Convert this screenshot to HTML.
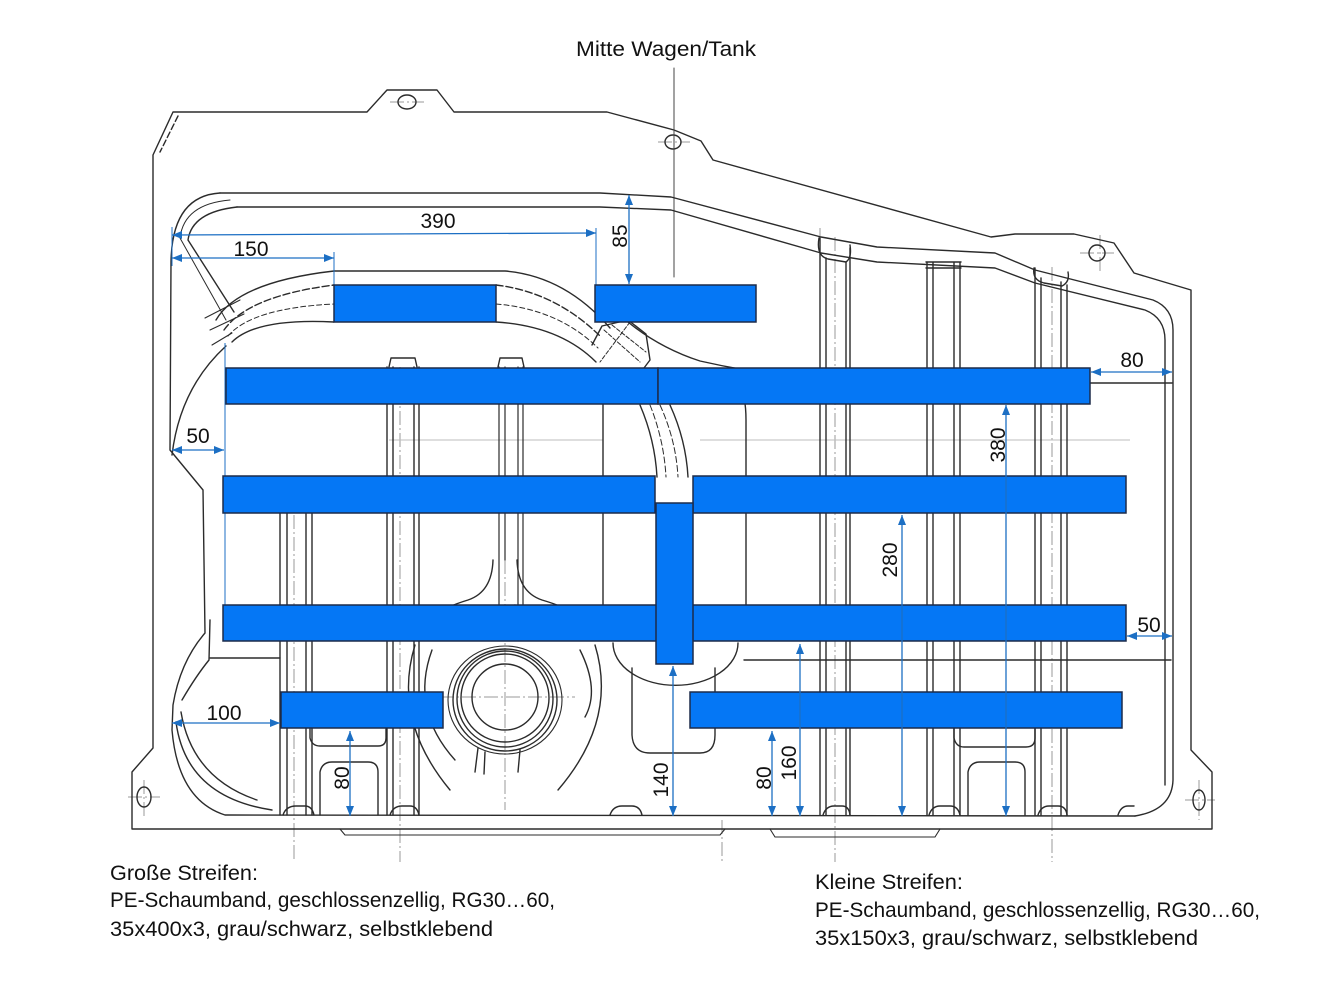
<!DOCTYPE html>
<html><head><meta charset="utf-8"><style>
html,body{margin:0;padding:0;background:#fff;}
svg{display:block;}
text{font-family:"Liberation Sans",sans-serif;fill:#111;}
</style></head><body>
<svg width="1344" height="1008" viewBox="0 0 1344 1008" xmlns="http://www.w3.org/2000/svg">
<defs>
<marker id="ah" viewBox="0 0 10 8" refX="10" refY="4" markerWidth="10" markerHeight="8" orient="auto-start-reverse" markerUnits="userSpaceOnUse"><path d="M0,0 L10,4 L0,8 Z" fill="#1c6fc4"/></marker>
</defs>
<rect width="1344" height="1008" fill="#fff"/>

<!-- light construction / center lines -->
<g fill="none" stroke="#9a9a9a" stroke-width="1" stroke-dasharray="14 3 2 3">
<line x1="294" y1="515" x2="294" y2="862"/>
<line x1="400" y1="367" x2="400" y2="862"/>
<line x1="505" y1="560" x2="505" y2="810"/>
<line x1="440" y1="697" x2="575" y2="697"/>
<line x1="722" y1="820" x2="722" y2="862"/>
<line x1="835" y1="237" x2="835" y2="862"/>
<line x1="1052" y1="267" x2="1052" y2="862"/>
<line x1="820" y1="228" x2="820" y2="262"/>
<line x1="1100" y1="235" x2="1100" y2="272"/>
<line x1="1199" y1="780" x2="1199" y2="820"/>
<line x1="144" y1="780" x2="144" y2="818"/>
<line x1="128" y1="797" x2="160" y2="797"/>
<line x1="1185" y1="800" x2="1215" y2="800"/>
<line x1="390" y1="102" x2="424" y2="102"/>
<line x1="658" y1="142" x2="690" y2="142"/>
<line x1="1080" y1="253" x2="1114" y2="253"/>
</g>
<g fill="none" stroke="#bdbdbd" stroke-width="1">
<line x1="389" y1="440" x2="603" y2="440"/>
<line x1="700" y1="440" x2="1130" y2="440"/>
</g>

<!-- main drawing -->
<g fill="none" stroke="#2b2b2b" stroke-width="1.4" stroke-linejoin="round" stroke-linecap="round">
<!-- outer contour -->
<path d="M173,112 L367,112 L387,90 L437,90 L454,112 L607,112 L674,130 L701,141 L713,160 L991,237 L1015,234 L1074,234 L1114,243 L1134,273 L1191,290 L1191,750 L1212,772 L1212,829 L132,829 L132,772 L153,748 L153,155 Z"/>
<path d="M178,116 L160,152" stroke-dasharray="6 3"/>
<path d="M340,829 L345,835 L720,835 L725,829 M770,829 L775,837 L935,837 L940,829" stroke-width="1.1"/>
<!-- holes -->
<ellipse cx="407" cy="102" rx="9" ry="7"/>
<ellipse cx="673" cy="142" rx="8" ry="7"/>
<ellipse cx="1097" cy="253" rx="8" ry="8"/>
<ellipse cx="144" cy="797" rx="7" ry="10"/>
<ellipse cx="1199" cy="800" rx="6" ry="10"/>
<!-- mitte line -->
<line x1="674" y1="68" x2="674" y2="277" stroke="#444" stroke-width="1"/>

<!-- inner flange line A -->
<path d="M220,193 L600,193 L671,197 L821,237 L877,247 L995,253 L1035,270 L1153,300 Q1173,308 1173,330 L1173,780 Q1172,810 1135,816"/>
<path d="M220,193 Q172,196 171,262 L170,450 L203,490 L205,633 Q180,662 173,705 L172,730 Q178,800 225,815 L1135,816"/>
<!-- inner flange line B -->
<path d="M237,207 L600,207 L671,210 L821,253 L877,262 L995,268 L1035,283 L1145,310 Q1165,318 1165,340 L1165,785"/>
<path d="M237,207 Q192,212 188,240 L234,312"/>
<path d="M230,200 Q184,204 180,238 L226,320" stroke-width="1"/>
<!-- left lower inner -->
<path d="M210,620 L209,660 Q196,676 182,700"/>
<path d="M210,658 L280,658"/>
<path d="M181,712 Q192,778 257,800"/>
<path d="M176,722 Q186,797 272,810"/>
<!-- hose band -->
<path d="M216,320 Q238,282 334,271 L505,271 Q565,276 610,328"/>
<path d="M224,330 Q248,296 334,285 M496,285 Q555,292 600,336" stroke-dasharray="7 3"/>
<path d="M232,342 Q256,318 334,322 M496,322 Q560,326 596,362"/>
<path d="M228,336 Q252,308 334,304 M496,304 Q558,309 598,348" stroke-dasharray="5 3" stroke-width="1"/>
<path d="M205,318 L240,300 M210,330 L244,314 M212,345 L232,333" stroke-width="1.1"/>
<!-- fitting -->
<path d="M592,345 L602,326 L628,320 L646,334 L650,360 L644,368"/>
<path d="M604,330 L640,362 M630,322 L600,362 M612,325 L646,352" stroke-width="1" stroke-dasharray="4 2"/>
<path d="M628,322 Q660,348 700,361 Q722,366 745,370"/>
<!-- tube below row 1 -->
<path d="M640,405 Q655,440 657,477"/>
<path d="M670,405 Q686,440 688,477"/>
<path d="M650,405 Q664,440 666,477 M660,405 Q676,440 678,477" stroke-dasharray="6 3" stroke-width="1"/>
<!-- left big loop -->
<path d="M172,455 Q180,388 226,346"/>
<!-- right of tube -->
<path d="M728,368 Q746,382 746,420 L746,605"/>
<line x1="603" y1="404" x2="603" y2="605"/>
<!-- bolts -->
<path d="M389,367 L391,358 L415,358 L417,367 M498,367 L500,358 L522,358 L524,367"/>
<!-- left ribs -->
<path d="M280,513 L280,815 M287,513 L287,815 M306,513 L306,815 M312,513 L312,815"/>
<path d="M387,367 L387,815 M393,367 L393,815 M414,367 L414,815 M419,367 L419,815"/>
<path d="M499,367 L499,605 M505,367 L505,560 M518,367 L518,605 M523,367 L523,605" stroke-width="1.2"/>
<!-- right ribs -->
<path d="M820,238 L820,815 M826,258 L826,815 M846,262 L846,815 M850,248 L850,815"/>
<path d="M819,238 Q816,256 828,259 L846,262 Q852,258 850,245"/>
<path d="M927,262 L927,815 M933,262 L933,815 M954,262 L954,815 M960,262 L960,815 M926,262 L961,262 M926,268 L961,268"/>
<path d="M1035,268 L1035,815 M1041,278 L1041,815 M1061,282 L1061,815 M1067,285 L1067,815"/>
<path d="M1034,268 Q1032,280 1044,283 L1062,286 Q1070,282 1068,272"/>
<!-- horizontal lines -->
<line x1="744" y1="660" x2="1171" y2="660"/>
<line x1="1090" y1="383" x2="1172" y2="383"/>
<!-- rib bottom bumps -->
<path d="M283,815 Q286,806 296,806 L305,806 Q312,806 314,815"/>
<path d="M390,815 Q393,806 402,806 L410,806 Q417,806 419,815"/>
<path d="M823,815 Q826,806 834,806 L842,806 Q849,806 850,815"/>
<path d="M929,815 Q932,806 940,806 L950,806 Q958,806 960,815"/>
<path d="M1038,815 Q1041,806 1049,806 L1058,806 Q1066,806 1067,815"/>
<path d="M610,815 Q613,806 622,806 L632,806 Q640,806 642,815"/>
<path d="M1118,815 Q1121,806 1128,806 L1134,806"/>
<!-- U shapes -->
<path d="M310,729 L310,738 Q312,746 320,746 L378,746 Q386,746 386,738 L386,729"/>
<path d="M320,815 L320,772 Q322,762 332,762 L368,762 Q378,762 378,772 L378,815"/>
<path d="M954,729 L954,738 Q956,747 964,747 L1026,747 Q1035,747 1035,738 L1035,729"/>
<path d="M968,815 L968,772 Q970,762 980,762 L1015,762 Q1025,762 1025,772 L1025,815"/>
<path d="M632,668 L632,735 Q633,753 650,753 L700,753 Q715,753 715,735 L715,668"/>
<!-- bowl -->
<path d="M613,643 A62,42 0 0 0 738,643"/>
<!-- sump -->
<circle cx="505" cy="697" r="33"/>
<ellipse cx="505" cy="698" rx="44" ry="44"/>
<ellipse cx="505" cy="699" rx="48" ry="48"/>
<ellipse cx="505" cy="700" rx="52" ry="51"/>
<ellipse cx="505" cy="700" rx="57" ry="54" stroke-width="1.1"/>
<path d="M478,748 L475,772 M485,752 L484,774 M520,750 L518,772"/>
<path d="M493,560 Q492,592 468,600 Q445,607 433,616"/>
<path d="M517,560 Q518,592 542,600 Q566,607 578,616"/>
<path d="M499,605 Q500,616 505,618 Q510,616 515,605"/>
<path d="M415,645 Q392,720 450,790"/>
<path d="M432,650 Q410,710 455,760"/>
<path d="M595,645 Q618,720 558,790"/>
<path d="M580,650 Q600,690 585,717"/>
<path d="M410,640 Q440,612 470,610 M600,640 Q570,612 540,610" stroke-width="1.1"/>
</g>

<!-- extension lines (blue) -->
<g stroke="#1c6fc4" stroke-width="1" fill="none">
<line x1="172" y1="227" x2="172" y2="266"/>
<line x1="596" y1="228" x2="596" y2="285"/>
<line x1="334" y1="252" x2="334" y2="285"/>
<line x1="225" y1="343" x2="225" y2="606"/>
</g>

<!-- blue strips -->
<g fill="#0577f5" stroke="#1d2b4a" stroke-width="1.5">
<rect x="334" y="285" width="162" height="37"/>
<rect x="595" y="285" width="161" height="37"/>
<rect x="226" y="368" width="432" height="36"/>
<rect x="658" y="368" width="432" height="36"/>
<rect x="223" y="476" width="432" height="37"/>
<rect x="693" y="476" width="433" height="37"/>
<rect x="223" y="605" width="903" height="36"/>
<rect x="656" y="503" width="37" height="161"/>
<rect x="281" y="692" width="162" height="36"/>
<rect x="690" y="692" width="432" height="36"/>
</g>

<!-- dimension arrows -->
<g stroke="#1c6fc4" stroke-width="1.3" fill="none">
<line x1="172" y1="235" x2="596" y2="233" marker-start="url(#ah)" marker-end="url(#ah)"/>
<line x1="172" y1="258" x2="334" y2="258" marker-start="url(#ah)" marker-end="url(#ah)"/>
<line x1="629" y1="195" x2="629" y2="284" marker-start="url(#ah)" marker-end="url(#ah)"/>
<line x1="1091" y1="372" x2="1172" y2="372" marker-start="url(#ah)" marker-end="url(#ah)"/>
<line x1="172" y1="450" x2="224" y2="450" marker-start="url(#ah)" marker-end="url(#ah)"/>
<line x1="172" y1="723" x2="280" y2="723" marker-start="url(#ah)" marker-end="url(#ah)"/>
<line x1="350" y1="731" x2="350" y2="816" marker-start="url(#ah)" marker-end="url(#ah)"/>
<line x1="673" y1="666" x2="673" y2="816" marker-start="url(#ah)" marker-end="url(#ah)"/>
<line x1="772" y1="731" x2="772" y2="816" marker-start="url(#ah)" marker-end="url(#ah)"/>
<line x1="800" y1="644" x2="800" y2="816" marker-start="url(#ah)" marker-end="url(#ah)"/>
<line x1="902" y1="515" x2="902" y2="816" marker-start="url(#ah)" marker-end="url(#ah)"/>
<line x1="1006" y1="405" x2="1006" y2="816" marker-start="url(#ah)" marker-end="url(#ah)"/>
<line x1="1127" y1="636" x2="1172" y2="636" marker-start="url(#ah)" marker-end="url(#ah)"/>
</g>

<!-- dimension labels -->
<g font-size="21" text-anchor="middle">
<text x="438" y="228">390</text>
<text x="251" y="256">150</text>
<text x="1132" y="367">80</text>
<text x="198" y="443">50</text>
<text x="224" y="720">100</text>
<text x="1149" y="632">50</text>
<text x="627" y="236" transform="rotate(-90 627 236)">85</text>
<text x="349" y="778" transform="rotate(-90 349 778)">80</text>
<text x="668" y="780" transform="rotate(-90 668 780)">140</text>
<text x="771" y="778" transform="rotate(-90 771 778)">80</text>
<text x="796" y="763" transform="rotate(-90 796 763)">160</text>
<text x="897" y="560" transform="rotate(-90 897 560)">280</text>
<text x="1005" y="445" transform="rotate(-90 1005 445)">380</text>
</g>

<!-- titles and notes -->
<g font-size="21">
<text x="576" y="56" textLength="180" lengthAdjust="spacingAndGlyphs">Mitte Wagen/Tank</text>
<text x="110" y="880" textLength="148" lengthAdjust="spacingAndGlyphs">Große Streifen:</text>
<text x="110" y="907" textLength="445" lengthAdjust="spacingAndGlyphs">PE-Schaumband, geschlossenzellig, RG30…60,</text>
<text x="110" y="936" textLength="383" lengthAdjust="spacingAndGlyphs">35x400x3, grau/schwarz, selbstklebend</text>
<text x="815" y="889" textLength="148" lengthAdjust="spacingAndGlyphs">Kleine Streifen:</text>
<text x="815" y="917" textLength="445" lengthAdjust="spacingAndGlyphs">PE-Schaumband, geschlossenzellig, RG30…60,</text>
<text x="815" y="945" textLength="383" lengthAdjust="spacingAndGlyphs">35x150x3, grau/schwarz, selbstklebend</text>
</g>
</svg>
</body></html>
